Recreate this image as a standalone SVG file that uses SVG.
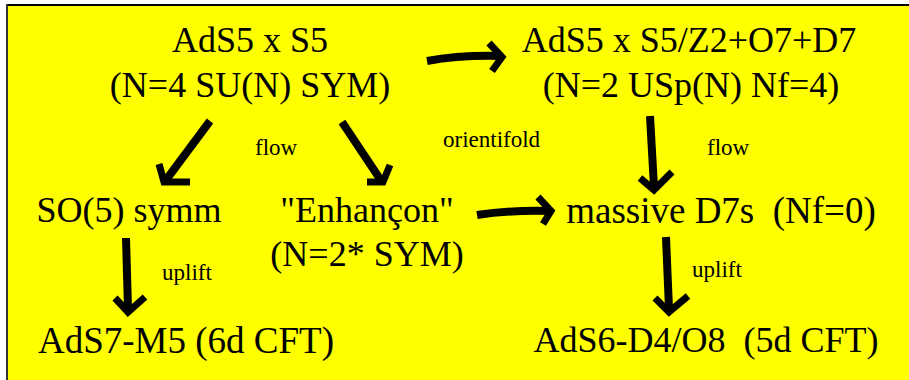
<svg xmlns="http://www.w3.org/2000/svg" width="909" height="380" viewBox="0 0 909 380">
<style>
.big{font-family:"Liberation Serif","Times New Roman",serif;font-size:36px;fill:#000;text-anchor:middle;white-space:pre}
.lab{font-family:"Liberation Serif","Times New Roman",serif;font-size:23px;fill:#000;text-anchor:start}
.stem{fill:none;stroke:#000;stroke-width:8;stroke-linecap:butt;stroke-linejoin:round}
.head{fill:none;stroke:#000;stroke-width:7;stroke-linecap:butt;stroke-linejoin:miter}
</style>
<rect x="0" y="0" width="909" height="380" fill="#fff"/>
<rect x="7" y="5" width="902" height="375" fill="#ffff00"/>
<line x1="6" y1="5" x2="909" y2="5" stroke="#000" stroke-width="2"/>
<line x1="7" y1="4" x2="7" y2="380" stroke="#333" stroke-width="2"/>

<g id="n-ads5">
<text class="big" x="250" y="52">AdS5 x S5</text>
<text class="big" x="250" y="97">(N=4 SU(N) SYM)</text>
</g>
<g id="n-orient">
<text class="big" x="689" y="52">AdS5 x S5/Z2+O7+D7</text>
<text class="big" x="691" y="97">(N=2 USp(N) Nf=4)</text>
</g>
<g id="n-so5">
<text class="big" x="129" y="222">SO(5) symm</text>
</g>
<g id="n-enhancon">
<text class="big" x="367" y="222">"Enhançon"</text>
<text class="big" x="367" y="266">(N=2* SYM)</text>
</g>
<g id="n-massive">
<text class="big" x="721" y="223" style="font-size:37px">massive D7s  (Nf=0)</text>
</g>
<g id="n-ads7">
<text class="big" x="186" y="353" style="font-size:37px">AdS7-M5 (6d CFT)</text>
</g>
<g id="n-ads6">
<text class="big" x="706" y="352">AdS6-D4/O8  (5d CFT)</text>
</g>

<g id="connectors">
<path class="stem" d="M210,121 L166,180"/>
<path class="head" d="M159,164 L164,182 L190,182"/>
<path class="stem" d="M342,122 L380,179"/>
<path class="head" d="M390,165 L383,182 L367,182"/>
<path class="stem" d="M427,61 Q460,55 500,56"/>
<path class="head" d="M489,43 L502,57 L492,71"/>
<path class="stem" d="M477,215 Q510,210 550,211"/>
<path class="head" d="M538,197 L551,211 L543,224"/>
<path class="stem" d="M126,238 L128,309"/>
<path class="head" d="M115,298 L128,312 L145,297"/>
<path class="stem" d="M650,116 L654,187"/>
<path class="head" d="M640,178 L654,190 L672,172"/>
<path class="stem" d="M666,237 L669,309"/>
<path class="head" d="M655,298 L669,312 L688,296"/>
<text class="lab" x="255" y="155">flow</text>
<text class="lab" x="443" y="147">orientifold</text>
<text class="lab" x="707" y="155">flow</text>
<text class="lab" x="162" y="280">uplift</text>
<text class="lab" x="692" y="277">uplift</text>
</g>
</svg>
